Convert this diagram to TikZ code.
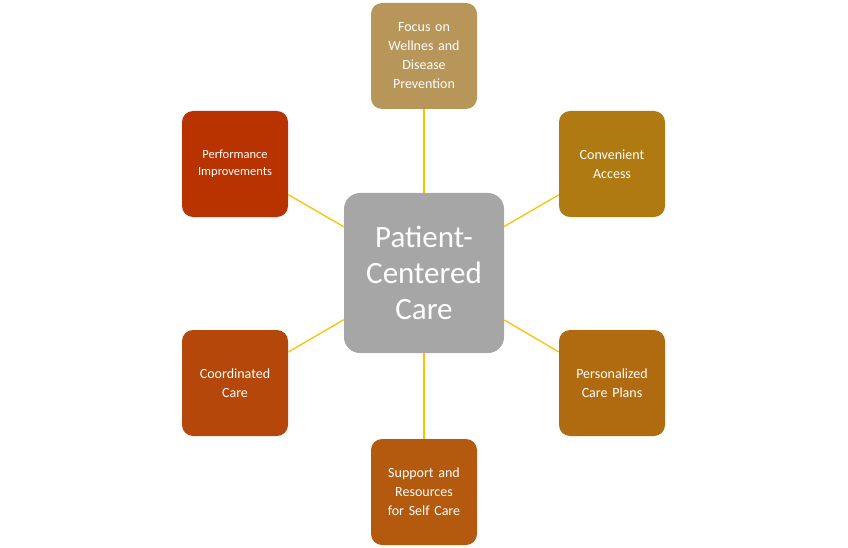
\documentclass[tikz,border=0pt]{standalone}
\usepackage{fontspec}
\setmainfont{Carlito}
\definecolor{hub}{HTML}{A6A6A6}
\definecolor{link}{HTML}{FFC000}
\definecolor{cA}{HTML}{B8965A}
\definecolor{cB}{HTML}{B07A12}
\definecolor{cC}{HTML}{B06A10}
\definecolor{cD}{HTML}{B35A0E}
\definecolor{cE}{HTML}{B5470A}
\definecolor{cF}{HTML}{B83300}
\begin{document}
\begin{tikzpicture}[x=1pt,y=1pt]
  \tikzstyle{hubbox}=[rectangle,rounded corners=16pt,fill=hub,minimum size=160pt,text=white,font=\fontsize{31}{36}\selectfont,align=center,text width=150pt]
  \tikzstyle{leaf}=[rectangle,rounded corners=11pt,minimum size=106pt,text=white,font=\fontsize{14}{19}\selectfont,align=center,text width=98pt]
  \tikzstyle{spoke}=[draw=link,line width=1.3pt]
  \useasboundingbox (0,0) rectangle (848,-548);

  \node [hubbox] (care) at (424,-273) {Patient-\\Centered\\Care};
  \node [leaf,fill=cA] (focus) at (424,-56) {Focus on\\Wellnes and\\Disease\\Prevention};
  \node [leaf,fill=cB] (access) at (612,-164) {Convenient\\Access};
  \node [leaf,fill=cC] (plans) at (612,-383) {Personalized\\Care Plans};
  \node [leaf,fill=cD] (self) at (424,-492) {Support and\\Resources\\for Self Care};
  \node [leaf,fill=cE] (coord) at (235,-383) {Coordinated\\Care};
  \node [leaf,fill=cF,font=\fontsize{12.5}{17}\selectfont] (perf) at (235,-164) {Performance\\Improvements};

  \foreach \n in {focus,access,plans,self,coord,perf}
    \draw [spoke] (care) -- (\n);
\end{tikzpicture}
\end{document}
